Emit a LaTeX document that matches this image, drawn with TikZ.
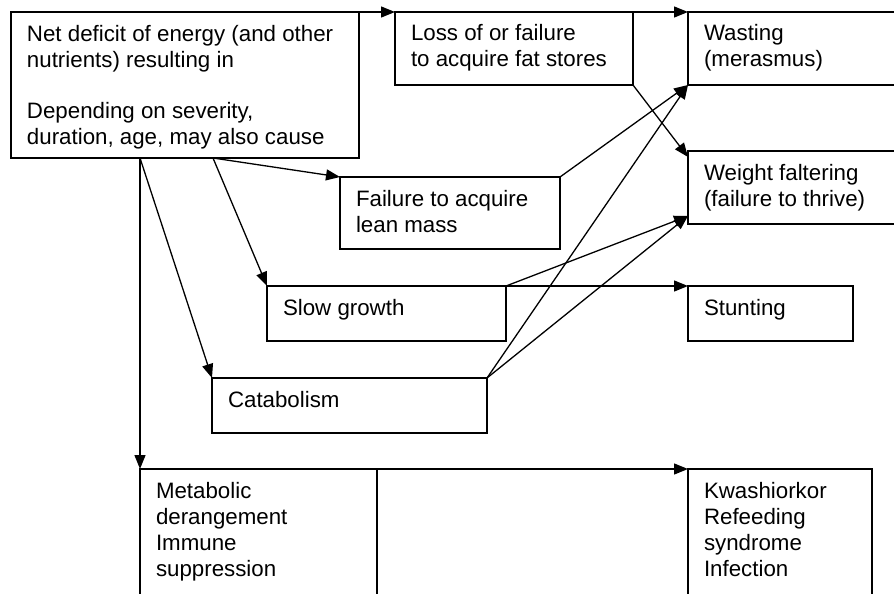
\documentclass[tikz,border=0pt]{standalone}
\usepackage{fontspec}
\setmainfont{Liberation Sans}
\usetikzlibrary{arrows.meta}

\begin{document}
\begin{tikzpicture}[x=1pt, y=-1pt, line width=1.3pt, font=\fontsize{22.3}{26}\selectfont,
box/.style={draw, anchor=north west, inner xsep=16pt, inner ysep=0pt, outer sep=0pt},
link/.style={->, >={Triangle[length=14pt, width=11pt]}}]
\clip (0,0) rectangle (894,594);
\foreach \name/\px/\py/\w/\h/\txt in {
  {deficit/11/12/348/146/{Net deficit of energy (and other\\nutrients) resulting in\\[26pt]Depending on severity,\\duration, age, may also cause}},
  {loss/395/12/238/73/{Loss of or failure\\to acquire fat stores}},
  {wasting/688/12/260/73/{Wasting\\(merasmus)}},
  {weight/688/151/260/73/{Weight faltering\\(failure to thrive)}},
  {lean/340/177/220/72/{Failure to acquire\\lean mass}},
  {slow/267/286/239/55/{Slow growth}},
  {stunting/688/286/165/55/{Stunting}},
  {catab/212/378/275/55/{Catabolism}},
  {metab/140/469/237/200/{Metabolic\\derangement\\Immune\\suppression}},
  {kwash/688/469/184/200/{Kwashiorkor\\Refeeding\\syndrome\\Infection}}%
} {
  \node [box] (\name) at (\px, \py) {\parbox[c][\h pt][t]{\dimexpr\w pt-32pt\relax}{\raggedright\rule{0pt}{29pt}\txt}};
}
% branching points on the bottom of the first box
\coordinate (deficitA) at ([xshift=129pt]deficit.south west);
\coordinate (deficitB) at ([xshift=202pt]deficit.south west);
\foreach \from/\to/\dy in {
  deficit.north east/loss.north west/0,
  loss.north east/wasting.north west/0,
  loss.south east/weight.north west/-6,
  lean.north east/wasting.south west/0,
  slow.north east/weight.south west/8,
  slow.north east/stunting.north west/0,
  catab.north east/wasting.south west/0,
  catab.north east/weight.south west/8,
  deficitB/lean.north west/0,
  deficitB/slow.north west/0,
  deficitA/catab.north west/0,
  deficitA/metab.north west/0,
  metab.north east/kwash.north west/0%
} {
  \draw [link] (\from) -- ([yshift=\dy pt]\to);
}
\end{tikzpicture}
\end{document}
